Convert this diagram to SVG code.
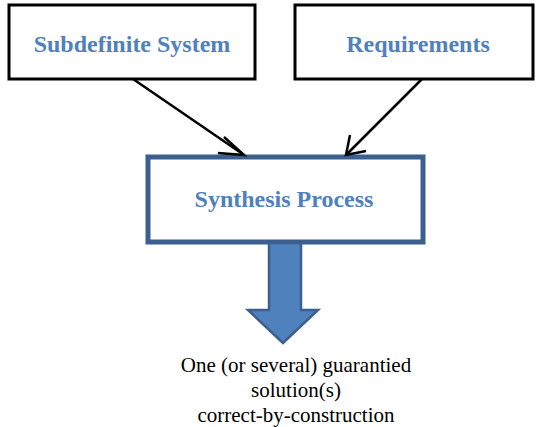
<svg xmlns="http://www.w3.org/2000/svg" width="537" height="427" viewBox="0 0 537 427">
  <style>
    .box { fill: #ffffff; stroke: #000000; stroke-width: 3; }
    .main { fill: #ffffff; stroke: #3b5f8f; stroke-width: 5; }
    .hdr { font-family: 'Liberation Serif', 'Times New Roman', serif; font-weight: bold; font-size: 24px; fill: #4f81bd; text-anchor: middle; }
    .cap { font-family: 'Liberation Serif', 'Times New Roman', serif; font-size: 21px; fill: #000000; text-anchor: middle; }
    .link { stroke: #000000; stroke-width: 2.5; fill: none; }
    .head { stroke: #000000; stroke-width: 2.5; fill: none; }
  </style>

  <g id="subdefinite-system">
    <rect class="box" x="9" y="5" width="246" height="74"/>
    <text class="hdr" x="132" y="52">Subdefinite System</text>
  </g>

  <g id="requirements">
    <rect class="box" x="295" y="5" width="238" height="74"/>
    <text class="hdr" x="418" y="52">Requirements</text>
  </g>

  <g id="synthesis-process">
    <rect class="main" x="148" y="157" width="275" height="85"/>
    <text class="hdr" x="284" y="207">Synthesis Process</text>
  </g>

  <g id="connectors">
    <line class="link" x1="133" y1="79" x2="244" y2="155"/>
    <polyline class="head" points="224,137 244,155 218,153"/>
    <line class="link" x1="422" y1="79" x2="346" y2="155"/>
    <polyline class="head" points="350,135 346,155 366,151"/>
    <!-- block arrow from the synthesis step down to the result -->
    <polygon points="269,243 301,243 301,310 318,310 283,343 248,310 269,310" fill="#4f81bd" stroke="#3b5f8f" stroke-width="2.5"/>
  </g>

  <g id="result">
    <text class="cap" x="296" y="372">One (or several) guarantied</text>
    <text class="cap" x="296" y="397">solution(s)</text>
    <text class="cap" x="296" y="422">correct-by-construction</text>
  </g>
</svg>
